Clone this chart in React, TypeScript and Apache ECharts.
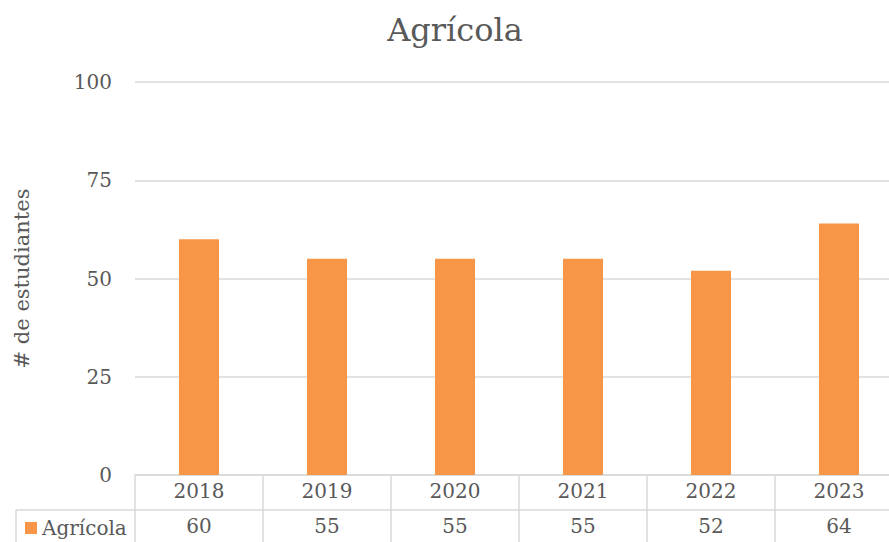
import React, { useEffect, useRef } from "react";
import * as echarts from "echarts";

const title = "Agrícola";
const seriesName = "Agrícola";
const yAxisName = "# de estudiantes";
const categories = ["2018", "2019", "2020", "2021", "2022", "2023"];
const values = [60, 55, 55, 55, 52, 64];
const yMin = 0;
const yMax = 100;
const yInterval = 25;

const FONT = "DejaVu Serif";
const TXT = "#595959";
const GRID = "#D9D9D9";
const BAR = "#F79646";

export default function App() {
  const ref = useRef<HTMLDivElement>(null);
  useEffect(() => {
    if (!ref.current) return;
    const chart = echarts.init(ref.current, undefined, { renderer: "svg" });
    const option: any = {
      animation: false,
      backgroundColor: "#ffffff",
      textStyle: { fontFamily: FONT, color: TXT },
      title: {
        text: title,
        left: 450,
        top: 9,
        textAlign: "center",
        textStyle: { fontFamily: FONT, color: TXT, fontSize: 32, fontWeight: "normal" },
      },
      legend: {
        data: [seriesName],
        left: 20,
        top: 513,
        padding: 5,
        icon: "rect",
        itemWidth: 12,
        itemHeight: 12,
        itemGap: 0,
        textStyle: { fontFamily: FONT, color: TXT, fontSize: 20 },
      },
      grid: [
        { left: 135, top: 82, width: 768, height: 393 },
        { left: 135, top: 475, width: 768, height: 80 },
      ],
      xAxis: [
        {
          type: "category",
          gridIndex: 0,
          data: categories,
          axisLine: { show: true, lineStyle: { color: GRID, width: 1.5 } },
          axisTick: { show: false },
          axisLabel: { show: false },
          splitLine: { show: false },
        },
        {
          type: "category",
          gridIndex: 1,
          position: "top",
          data: categories,
          axisLine: { show: false },
          axisTick: { show: false },
          axisLabel: { show: true, inside: true, margin: 6, fontFamily: FONT, color: TXT, fontSize: 20 },
          splitLine: { show: true, lineStyle: { color: GRID, width: 1.5 } },
        },
        {
          type: "category",
          gridIndex: 1,
          position: "top",
          data: values.map((v) => String(v)),
          axisLine: { show: false },
          axisTick: { show: false },
          axisLabel: { show: true, inside: true, margin: 41, fontFamily: FONT, color: TXT, fontSize: 20 },
          splitLine: { show: false },
        },
      ],
      yAxis: [
        {
          type: "value",
          gridIndex: 0,
          min: yMin,
          max: yMax,
          interval: yInterval,
          name: yAxisName,
          nameLocation: "middle",
          nameGap: 103,
          nameTextStyle: { fontFamily: FONT, color: TXT, fontSize: 21 },
          axisLine: { show: false },
          axisTick: { show: false },
          axisLabel: { margin: 23, fontFamily: FONT, color: TXT, fontSize: 20 },
          splitLine: { show: true, lineStyle: { color: GRID, width: 1.5 } },
        },
        {
          type: "value",
          gridIndex: 1,
          show: false,
        },
      ],
      graphic: [
        { type: "line", shape: { x1: 16, y1: 510, x2: 920, y2: 510 }, style: { stroke: GRID, lineWidth: 1.5 } },
        { type: "line", shape: { x1: 16, y1: 510, x2: 16, y2: 542 }, style: { stroke: GRID, lineWidth: 1.5 } },
      ],
      series: [
        {
          name: seriesName,
          type: "bar",
          xAxisIndex: 0,
          yAxisIndex: 0,
          data: values,
          barWidth: 40,
          itemStyle: { color: BAR },
        },
      ],
    };
    chart.setOption(option);
    return () => chart.dispose();
  }, []);
  return (
    <div
      style={{ position: "fixed", left: 0, top: 0, width: 889, height: 542, overflow: "hidden", background: "#fff" }}
    >
      <div ref={ref} style={{ width: 920, height: 542 }} />
    </div>
  );
}
